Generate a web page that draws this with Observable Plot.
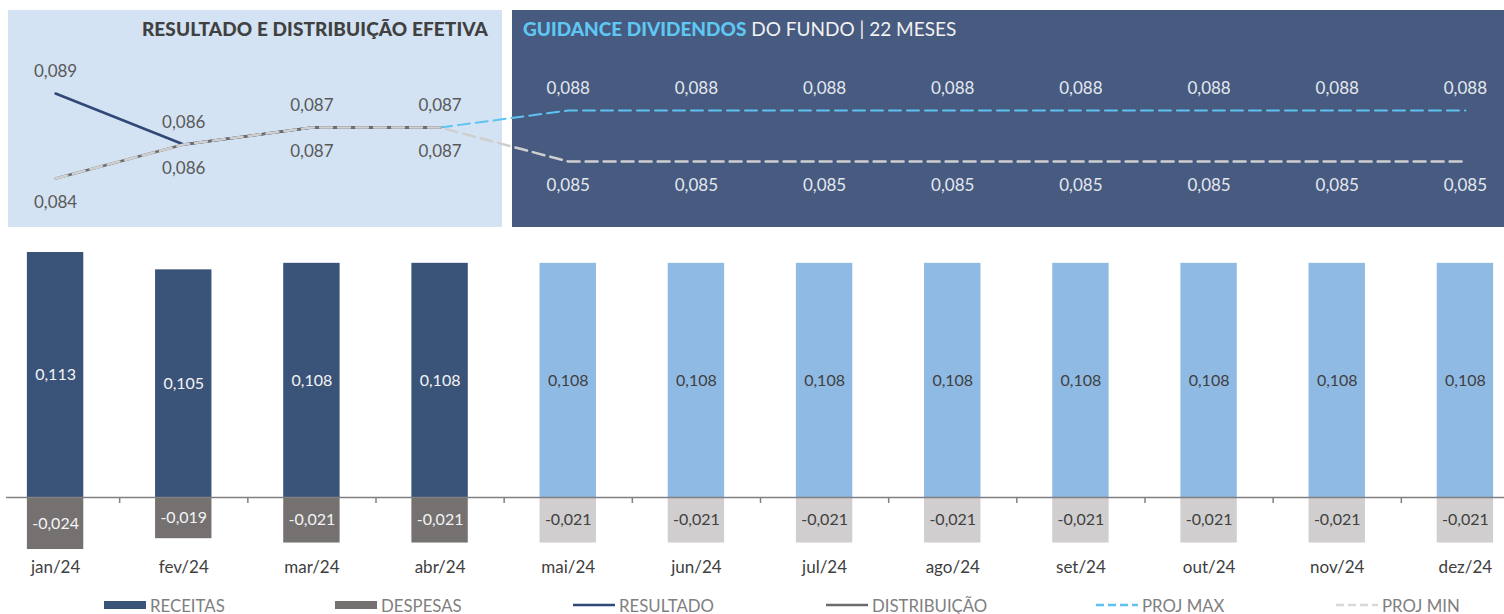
<!DOCTYPE html>
<html>
<head>
<meta charset="utf-8">
<script src="https://cdn.jsdelivr.net/npm/d3@7"></script>
<script src="https://cdn.jsdelivr.net/npm/@observablehq/plot@0.6"></script>
<style>
  html, body { margin: 0; padding: 0; background: #fff; }
  #root { position: relative; width: 1504px; height: 614px; overflow: hidden; font-family: Lato, "Noto Sans", sans-serif; }
  .abs { position: absolute; }
  .panel-left { left: 8px; top: 10px; width: 494px; height: 217px; background: #d3e3f3; }
  .panel-right { left: 512px; top: 10px; width: 992px; height: 217px; background: #475a80; }
  .title-left { right: 1016px; top: 18px; font-size: 19px; font-weight: 900; color: #404040; white-space: nowrap; line-height: 22px; letter-spacing: 0.1px; }
  .title-right { left: 523px; top: 18px; font-size: 19px; color: #f2f2f2; white-space: nowrap; line-height: 22px; }
  .title-right b { color: #5ec8f2; font-weight: 900; }
  .legend-item { top: 596px; height: 18px; display: flex; align-items: center; font-size: 16.8px; color: #808080; white-space: nowrap; }
  .legend-item svg { margin-right: 4px; }
</style>
</head>
<body>
<div id="root">
  <div class="abs panel-left"></div>
  <div class="abs panel-right"></div>
  <div class="abs title-left">RESULTADO E DISTRIBUIÇÃO EFETIVA</div>
  <div class="abs title-right"><b>GUIDANCE DIVIDENDOS</b> DO FUNDO | 22 MESES</div>
  <div id="top" class="abs" style="left:0;top:0;"></div>
  <div id="bars" class="abs" style="left:0;top:227px;"></div>
  <div id="legend"></div>
</div>
<script>
// ---------- DATA ----------
const months = ["jan/24","fev/24","mar/24","abr/24","mai/24","jun/24","jul/24","ago/24","set/24","out/24","nov/24","dez/24"];
const status = ["real","real","real","real","proj","proj","proj","proj","proj","proj","proj","proj"];
const receitas = [0.113, 0.105, 0.108, 0.108, 0.108, 0.108, 0.108, 0.108, 0.108, 0.108, 0.108, 0.108];
const despesas = [-0.024, -0.019, -0.021, -0.021, -0.021, -0.021, -0.021, -0.021, -0.021, -0.021, -0.021, -0.021];
const resultado = [0.089, 0.086, 0.087, 0.087, null, null, null, null, null, null, null, null];
const distribuicao = [0.084, 0.086, 0.087, 0.087, null, null, null, null, null, null, null, null];
const projMax = [null, null, null, 0.087, 0.088, 0.088, 0.088, 0.088, 0.088, 0.088, 0.088, 0.088];
const projMin = [0.084, 0.086, 0.087, 0.087, 0.085, 0.085, 0.085, 0.085, 0.085, 0.085, 0.085, 0.085];
const legendLabels = ["RECEITAS", "DESPESAS", "RESULTADO", "DISTRIBUIÇÃO", "PROJ MAX", "PROJ MIN"];

// ---------- helpers ----------
const fmt = v => v.toFixed(3).replace(".", ",");
const rows = months.map((m, i) => ({
  month: m, status: status[i], receitas: receitas[i], despesas: despesas[i],
  resultado: resultado[i], distribuicao: distribuicao[i], projMax: projMax[i], projMin: projMin[i]
}));
const xRange = [-9, 1529];
const step = (xRange[1] - xRange[0]) / months.length;
const font = "Lato, 'Noto Sans', sans-serif";

// ---------- TOP LINE CHART ----------
const realRows = rows.filter(d => d.status === "real");
const projRows = rows.filter(d => d.status === "proj");
const topPlot = Plot.plot({
  width: 1504, height: 227,
  margin: 0,
  style: {background: "transparent", fontFamily: font, overflow: "visible"},
  x: {type: "point", domain: months, range: xRange, padding: 0.5, round: false, axis: null},
  y: {domain: [0.084, 0.089], range: [178, 93], axis: null},
  marks: [
    Plot.line(rows, {x: "month", y: "projMax", stroke: "#5ec3f0", strokeWidth: 2, strokeDasharray: "12 6"}),
    Plot.line(rows, {x: "month", y: "resultado", stroke: "#2f4876", strokeWidth: 2.5}),
    Plot.line(rows, {x: "month", y: "distribuicao", stroke: "#6f6b6b", strokeWidth: 2.5}),
    Plot.line(rows, {x: "month", y: "projMin", stroke: "#cfcfcf", strokeWidth: 2.5, strokeDasharray: "12 6"}),
    Plot.text(realRows, {x: "month", y: "resultado", text: d => fmt(d.resultado), dy: -22, fill: "#595959", fontSize: 17}),
    Plot.text(realRows, {x: "month", y: "distribuicao", text: d => fmt(d.distribuicao), dy: 24, fill: "#595959", fontSize: 17}),
    Plot.text(projRows, {x: "month", y: "projMax", text: d => fmt(d.projMax), dy: -22, fill: "#e4e8ef", fontSize: 17}),
    Plot.text(projRows, {x: "month", y: "projMin", text: d => fmt(d.projMin), dy: 24, fill: "#e4e8ef", fontSize: 17})
  ]
});
document.getElementById("top").append(topPlot);

// ---------- BAR CHART ----------
const yRange = [270, 25];
const pxPerUnit = (yRange[0] - yRange[1]) / 0.113;
const tickLen = 6 / pxPerUnit;
const barColor = d => d.status === "real" ? "#3a5378" : "#8fbae4";
const negColor = d => d.status === "real" ? "#767171" : "#d0cece";
const labColor = d => d.status === "real" ? "#f4f4f4" : "#404040";
const barPlot = Plot.plot({
  width: 1504, height: 360,
  marginLeft: 6, marginRight: 0, marginTop: 0, marginBottom: 40,
  style: {background: "transparent", fontFamily: font, overflow: "visible"},
  x: {type: "band", domain: months, range: xRange, paddingInner: 0.56, paddingOuter: 0.28, round: false},
  y: {domain: [0, 0.113], range: yRange, axis: null},
  marks: [
    Plot.barY(rows, {x: "month", y: "receitas", fill: barColor}),
    Plot.barY(rows, {x: "month", y: "despesas", fill: negColor}),
    Plot.ruleY([0], {stroke: "#808080", strokeWidth: 1.5}),
    Plot.ruleX(months.slice(1), {x: d => d, dx: -step / 2, y1: 0, y2: -tickLen, stroke: "#808080", strokeWidth: 1.5}),
    Plot.text(rows, {x: "month", y: d => d.receitas / 2, text: d => fmt(d.receitas), fill: labColor, fontSize: 16}),
    Plot.text(rows, {x: "month", y: d => d.despesas / 2, text: d => fmt(d.despesas), fill: labColor, fontSize: 16}),
    Plot.axisX({anchor: "bottom", tickSize: 0, tickPadding: 13, fontSize: 17, color: "#404040", label: null})
  ]
});
document.getElementById("bars").append(barPlot);

// ---------- LEGEND ----------
const legendLeft = [104, 335, 573, 826, 1096, 1336];
const legendSwatch = [
  {type: "rect", color: "#3a5378"},
  {type: "rect", color: "#767171"},
  {type: "line", color: "#2f4876", dash: null},
  {type: "line", color: "#6f6b6b", dash: null},
  {type: "line", color: "#5ec3f0", dash: "8 4"},
  {type: "line", color: "#d9d9d9", dash: "8 4"}
];
const legend = document.getElementById("legend");
legendLabels.forEach((lab, i) => {
  const item = document.createElement("div");
  item.className = "abs legend-item";
  item.style.left = legendLeft[i] + "px";
  const s = legendSwatch[i];
  const sw = s.type === "rect"
    ? `<svg width="42" height="10"><rect x="0" y="1" width="42" height="8" fill="${s.color}"/></svg>`
    : `<svg width="42" height="10"><line x1="0" x2="42" y1="5" y2="5" stroke="${s.color}" stroke-width="2.5" ${s.dash ? `stroke-dasharray="${s.dash}"` : ""}/></svg>`;
  item.innerHTML = sw + `<span>${lab}</span>`;
  legend.append(item);
});
</script>
</body>
</html>
